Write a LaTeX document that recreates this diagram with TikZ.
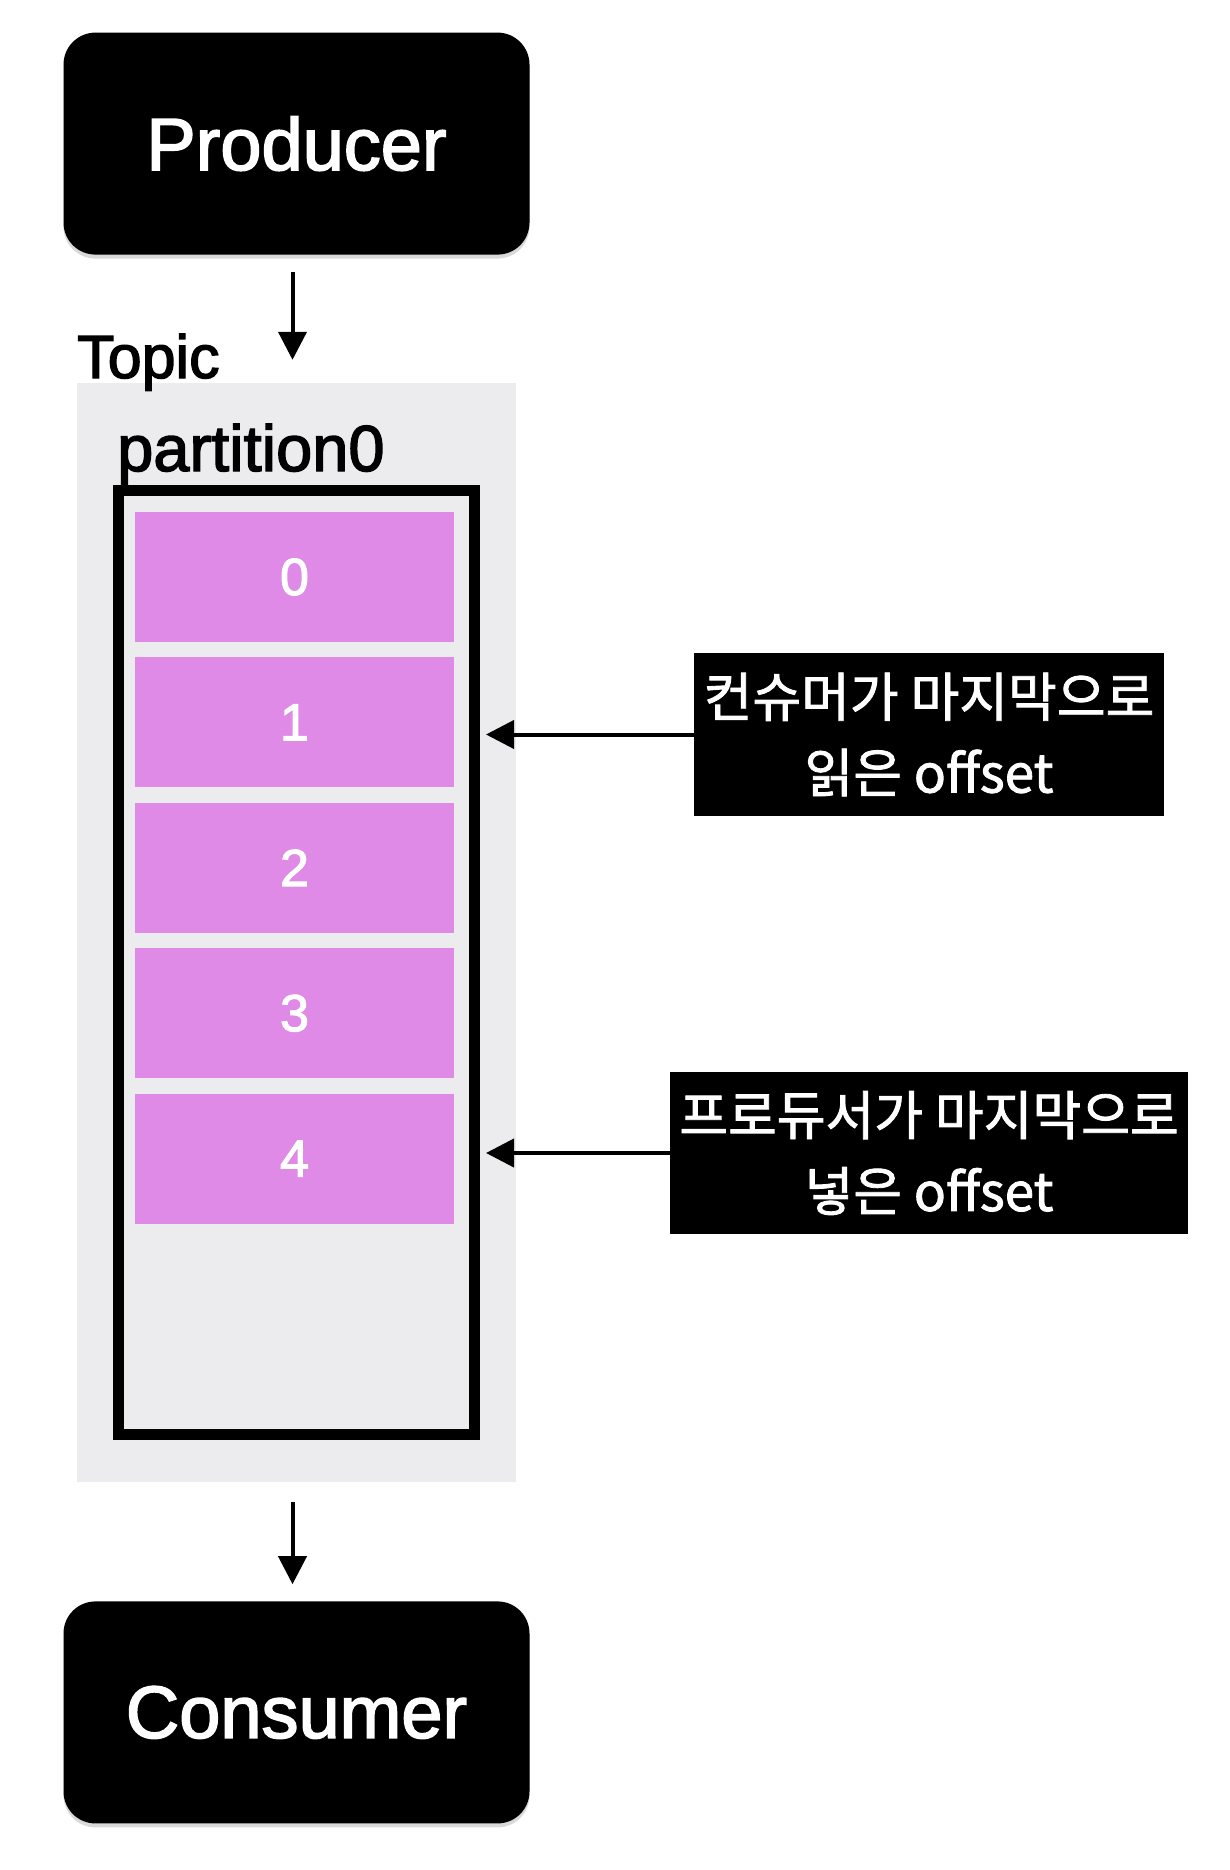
\documentclass[tikz,border=0pt]{standalone}
\usepackage{fontspec}
\setmainfont{Liberation Sans}[FakeBold=2.2]
\newfontfamily\krfont{Noto Sans CJK KR}[FakeBold=1.6]
\usetikzlibrary{positioning, arrows.meta, shadows}
\definecolor{topicgray}{HTML}{ECEBEE}
\definecolor{cellpink}{HTML}{DF8AE6}

\begin{document}
\begin{tikzpicture}[x=1pt, y=-1pt,
    endpoint/.style={fill=black, text=white, rounded corners=32pt, minimum width=466pt, minimum height=222pt, font=\fontsize{74}{80}\selectfont, drop shadow={opacity=0.3, shadow xshift=0pt, shadow yshift=-4pt}},
    cell/.style={fill=cellpink, text=white, minimum width=319pt, minimum height=130pt, inner sep=0pt, font=\fontsize{52}{60}\selectfont},
    note/.style={fill=black, text=white, align=center, inner sep=0pt, font=\krfont\fontsize{53}{76}\selectfont},
    flow/.style={line width=4pt, -{Triangle[length=28pt, width=28pt]}}]
    \useasboundingbox (0,0) rectangle (1230,1870);

    \node[fill=topicgray, minimum width=439pt, minimum height=1099pt] (topic) at (296.5,932.5) {};
    \node[anchor=base west, inner sep=0pt, font=\fontsize{61}{66}\selectfont] (topic-title) at (77,378) {Topic};

    \node[endpoint, above=128pt of topic] (producer) {Producer};
    \node[endpoint, below=119pt of topic] (consumer) {Consumer};

    \node[draw, line width=11pt, minimum width=356pt, minimum height=944pt, inner sep=0pt] (part) at (296.5,962.5) {};
    \node[anchor=base west, inner sep=0pt, font=\fontsize{65}{68}\selectfont] (part-title) at (117,471) {partition0};

    \node[cell] (cell0) at (294.5,577) {0};
    \node[cell, below=15pt of cell0] (cell1) {1};
    \node[cell, below=15pt of cell1] (cell2) {2};
    \node[cell, below=15pt of cell2] (cell3) {3};
    \node[cell, below=15pt of cell3] (cell4) {4};

    \node[note, minimum width=470pt, minimum height=163pt] (read-note) at (929,734.5) {컨슈머가 마지막으로\\읽은 offset};
    \node[note, minimum width=518pt, minimum height=162pt] (put-note) at (929,1153) {프로듀서가 마지막으로\\넣은 offset};

    \draw[flow, shorten <=17pt, shorten >=23pt] ([xshift=-4pt]producer.south) -- ([xshift=-4pt]producer.south |- topic.north);
    \draw[flow, shorten <=20pt, shorten >=17pt] ([xshift=-4pt]topic.south) -- ([xshift=-4pt]topic.south |- consumer.north);
    \draw[flow, shorten >=6pt] (read-note.west) -- (read-note.west -| part.east);
    \draw[flow, shorten >=6pt] (put-note.west) -- (put-note.west -| part.east);
\end{tikzpicture}
\end{document}
